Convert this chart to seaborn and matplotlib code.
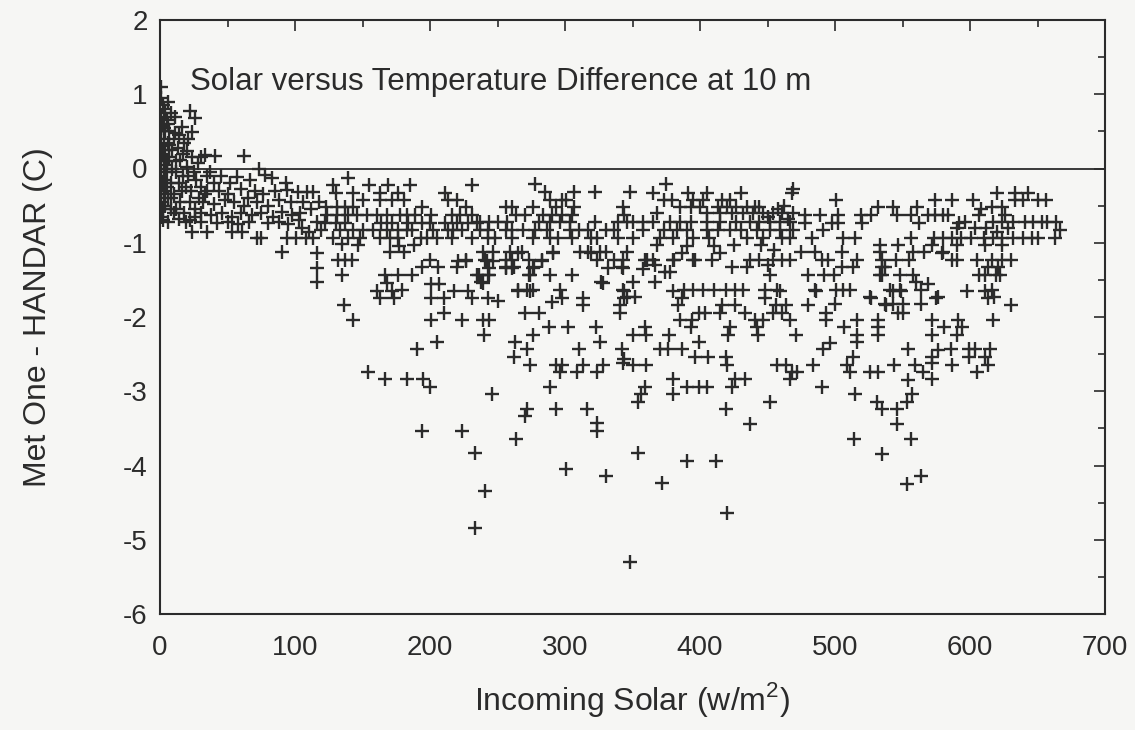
import matplotlib
matplotlib.use("Agg")
import matplotlib.pyplot as plt
from matplotlib.ticker import MultipleLocator
import seaborn as sns
import pandas as pd

# (incoming solar w/m2, Met One - HANDAR difference C)
seg_0_100 = [
(1,1.1),(1,0.95),(2,0.85),(1,0.7),(2,0.6),(1,0.5),(3,0.4),(1,0.3),(2,0.2),(1,0.1),(3,0.0),(1,-0.1),(2,-0.2),(1,-0.3),(3,-0.35),(1,-0.45),(2,-0.55),(1,-0.65),
(4,0.75),(4,0.5),(4,0.25),(4,0.05),(4,-0.15),(4,-0.3),(4,-0.5),(5,0.65),(5,0.1),(5,-0.05),(5,-0.25),(6,-0.4),(6,-0.72),(6,0.35),(7,0.5),(7,0.15),(8,-0.2),(8,-0.55),(8,0.75),
(11,0.7),(22,0.78),(26,0.68),(16,0.56),(24,0.49),(11,0.48),(7,0.31),(13,0.28),(20,0.23),(24,0.16),(30,0.16),(28,0.07),(10,0.4),(18,0.35),(15,0.12),(9,0.0),(12,-0.05),(17,-0.1),(20,0.02),(25,-0.05),(14,-0.2),(19,-0.25),(23,-0.3),(10,-0.35),(15,-0.45),(27,-0.15),(30,-0.25),(22,-0.45),(12,-0.55),(18,-0.6),(26,-0.55),(29,-0.4),(33,-0.35),(35,-0.1),(33,0.18),(41,0.17),(62,0.17),(73,0.0),
(37,-0.05),(45,-0.1),(57,-0.11),(67,-0.15),(78,-0.09),(83,-0.13),(52,-0.2),(93,-0.2),(40,-0.2),
(35,-0.3),(44,-0.3),(50,-0.35),(60,-0.28),(70,-0.3),(76,-0.35),(85,-0.3),(94,-0.29),(65,-0.4),
(32,-0.45),(40,-0.48),(48,-0.42),(55,-0.45),(62,-0.5),(72,-0.45),(80,-0.5),(88,-0.42),(97,-0.45),
(30,-0.6),(38,-0.62),(46,-0.6),(53,-0.65),(60,-0.6),(68,-0.62),(75,-0.6),(84,-0.65),(90,-0.58),(98,-0.62),
(22,-0.7),(30,-0.72),(42,-0.74),(50,-0.72),(58,-0.75),(66,-0.72),(80,-0.74),(88,-0.72),(95,-0.75),
(24,-0.85),(35,-0.85),(53,-0.85),(61,-0.85),(72,-0.93),(75,-0.93),(94,-0.93),(90,-1.12),
(3,0.55),(6,0.6),(9,0.25),(14,0.45),(17,0.2),(21,0.4),(12,0.1),(8,-0.4),(10,-0.6),(14,-0.68),(19,-0.72),(26,-0.65),(16,-0.3),(21,-0.1),(6,0.9),(3,0.8),(2,-0.7),
]

seg_100_200 = [
(101,-0.93),(108,-0.93),(113,-0.93),(103,-0.7),(105,-0.8),(110,-0.85),(102,-0.31),(109,-0.31),(113,-0.31),(106,-0.45),(112,-0.55),(104,-0.6),(116,-0.72),(116,-1.14),(116,-1.34),(116,-1.53),(118,-0.45),
(139,-0.13),(128,-0.22),(130,-0.33),(155,-0.22),(169,-0.22),(185,-0.22),(143,-0.33),(163,-0.33),(176,-0.33),
(150,-0.42),(163,-0.42),(172,-0.42),(181,-0.42),(194,-0.52),(123,-0.52),(131,-0.52),(137,-0.52),(143,-0.52),
(124,-0.63),(131,-0.63),(139,-0.63),(146,-0.63),(153,-0.63),(161,-0.63),(168,-0.63),(178,-0.63),(183,-0.63),(189,-0.63),
(122,-0.73),(130,-0.73),(137,-0.73),(164,-0.73),(172,-0.73),(184,-0.73),(194,-0.73),
(119,-0.83),(133,-0.83),(143,-0.83),(150,-0.83),(158,-0.83),(168,-0.83),(176,-0.83),(183,-0.83),(187,-0.83),
(128,-0.94),(139,-0.94),(148,-0.94),(163,-0.94),(170,-0.94),(176,-0.94),(193,-0.94),(198,-0.94),
(135,-1.02),(147,-1.03),(177,-1.05),(188,-1.03),
(132,-1.23),(137,-1.23),(142,-1.23),(170,-1.12),(181,-1.12),(135,-1.43),(167,-1.43),(176,-1.43),(187,-1.43),(194,-1.33),
(161,-1.65),(172,-1.65),(179,-1.63),(163,-1.74),(173,-1.74),(168,-1.54),(136,-1.84),(143,-2.04),
(154,-2.74),(167,-2.84),(183,-2.84),(195,-2.84),(194,-3.54),(190,-2.43),
]

seg_200_300 = [
(200,-2.94),(224,-3.54),(233,-3.83),(241,-4.34),(233,-4.84),(246,-3.04),(205,-2.34),(201,-2.04),(210,-1.94),(224,-2.04),(239,-2.04),(244,-2.04),(240,-2.24),
(201,-1.55),(207,-1.55),(201,-1.74),(210,-1.74),(218,-1.65),(228,-1.65),(231,-1.74),(243,-1.74),
(206,-1.33),(220,-1.33),(221,-1.24),(227,-1.24),(236,-1.43),(244,-1.43),(239,-1.54),(242,-1.24),(247,-1.24),(256,-1.33),(262,-1.33),(265,-1.14),(273,-1.43),(265,-1.65),(274,-1.65),(270,-1.94),(281,-1.94),(276,-2.24),(263,-2.34),(272,-2.43),(262,-2.54),(274,-2.65),(288,-2.14),(293,-2.65),(298,-2.65),(296,-2.74),(289,-2.94),(272,-3.24),(270,-3.33),(293,-3.24),(264,-3.64),(289,-1.43),(298,-1.74),(291,-1.14),(277,-1.33),(283,-1.24),(200,-1.23),(227,-1.23),(235,-1.43),
(231,-0.22),(211,-0.33),(213,-0.42),(220,-0.42),(227,-0.52),(201,-0.63),(216,-0.63),(222,-0.63),(231,-0.63),(200,-0.73),(211,-0.73),(220,-0.73),(228,-0.73),(235,-0.73),(202,-0.83),(213,-0.83),(217,-0.83),(224,-0.83),(205,-0.94),(216,-0.94),(231,-0.94),
(278,-0.21),(285,-0.31),(289,-0.42),(298,-0.42),(256,-0.52),(261,-0.52),(276,-0.52),(293,-0.52),(264,-0.63),(270,-0.63),(284,-0.63),(290,-0.63),(298,-0.63),
(237,-0.72),(244,-0.72),(250,-0.72),(257,-0.72),(281,-0.72),(289,-0.72),(296,-0.72),
(237,-0.83),(243,-0.83),(256,-0.83),(261,-0.83),(269,-0.83),(278,-0.83),(287,-0.83),
(243,-0.94),(248,-0.94),(261,-0.94),(276,-0.94),(289,-0.94),(295,-0.94),
(239,-1.12),(247,-1.12),(259,-1.12),(268,-1.12),(291,-1.12),
(241,-1.23),(256,-1.23),(261,-1.23),(273,-1.23),(283,-1.23),
(244,-1.34),(256,-1.34),(261,-1.34),(276,-1.34),
(243,-1.43),(274,-1.43),
(238,-1.53),(265,-1.63),(272,-1.63),(276,-1.63),(296,-1.63),(250,-1.78),(290,-1.8),
]

seg_300_400 = [
(307,-0.31),(322,-0.31),(348,-0.31),(301,-0.42),(307,-0.52),(343,-0.52),(305,-0.63),(344,-0.63),
(304,-0.72),(322,-0.72),(339,-0.72),(346,-0.72),(350,-0.72),
(304,-0.83),(310,-0.83),(317,-0.83),(330,-0.83),(336,-0.83),
(305,-0.94),(319,-0.94),(324,-0.94),(339,-0.94),(350,-0.94),
(311,-1.12),(317,-1.12),(326,-1.12),(330,-1.12),(346,-1.12),
(324,-1.23),(336,-1.23),(343,-1.23),(332,-1.34),(343,-1.34),
(305,-1.43),(327,-1.53),(350,-1.53),(343,-1.63),
(328,-1.54),(313,-1.74),(313,-1.84),(341,-1.94),(344,-1.65),(344,-1.74),(342,-1.33),(319,-1.14),
(302,-2.14),(323,-2.14),(326,-2.34),(310,-2.43),(309,-2.74),(313,-2.65),(324,-2.74),(328,-2.65),(342,-2.43),(343,-2.62),(316,-3.24),(324,-3.43),(324,-3.54),(301,-4.05),(330,-4.14),(348,-5.3),
(354,-3.83),(372,-4.24),(390,-3.94),(356,-3.04),(354,-3.14),(359,-2.94),(380,-3.04),(380,-2.84),(390,-2.94),(399,-2.94),
(344,-2.56),(350,-2.65),(360,-2.65),(370,-2.43),(376,-2.43),(387,-2.43),(396,-2.54),(350,-2.24),(360,-2.24),(359,-2.14),(377,-2.24),(399,-2.34),
(385,-2.04),(394,-2.04),(399,-1.94),(393,-2.14),(384,-1.84),(387,-1.74),
(361,-1.23),(367,-1.3),(374,-1.4),(378,-1.4),(381,-1.23),(387,-1.14),(396,-1.23),
(346,-1.73),(352,-1.73),(341,-1.84),(367,-1.53),
(380,-1.65),(388,-1.63),(395,-1.63),
(375,-0.21),(365,-0.33),(391,-0.33),(373,-0.42),(379,-0.42),(395,-0.42),(385,-0.52),(393,-0.52),(368,-0.6),
(358,-0.72),(365,-0.72),(378,-0.72),(385,-0.72),(393,-0.72),
(358,-0.83),(373,-0.83),(383,-0.83),(390,-0.83),
(370,-0.94),(380,-0.94),(395,-0.94),
(368,-1.03),(390,-1.05),(359,-1.23),(365,-1.23),(380,-1.23),(395,-1.23),(358,-1.35),
]

seg_400_500 = [
(405,-0.33),(430,-0.33),(468,-0.33),(402,-0.42),(416,-0.42),(422,-0.42),(400,-0.52),(413,-0.52),(420,-0.52),(427,-0.52),(435,-0.52),(441,-0.52),(444,-0.52),
(405,-0.6),(415,-0.6),(424,-0.6),(432,-0.6),(439,-0.6),(447,-0.6),(454,-0.6),(461,-0.6),(469,-0.6),
(405,-0.72),(415,-0.72),(427,-0.72),(437,-0.72),(444,-0.72),(452,-0.72),(459,-0.72),(467,-0.72),
(405,-0.83),(413,-0.83),(422,-0.83),(430,-0.83),(442,-0.83),(452,-0.83),(459,-0.83),(469,-0.83),
(407,-0.94),(435,-0.94),(447,-0.94),(461,-0.94),(467,-0.94),
(410,-1.05),(425,-1.03),(445,-1.03),(455,-1.1),
(409,-1.23),(437,-1.23),(444,-1.23),(454,-1.23),(461,-1.23),(467,-1.23),
(415,-1.14),(424,-1.33),(435,-1.33),(450,-1.3),(452,-1.43),
(402,-1.63),(410,-1.63),(419,-1.63),(426,-1.63),(432,-1.63),(448,-1.63),(457,-1.63),
(404,-1.94),(415,-1.94),(416,-1.84),(426,-1.84),(433,-1.94),(441,-2.04),(447,-2.04),(442,-2.14),(443,-2.24),(459,-1.65),(448,-1.74),(454,-1.94),(461,-1.94),(467,-2.04),(456,-1.84),(464,-1.84),(471,-2.24),
(406,-2.54),(419,-2.54),(420,-2.65),(421,-2.24),(422,-2.14),(424,-2.94),(426,-2.84),(433,-2.84),(405,-2.94),(412,-3.94),(420,-4.64),(419,-3.24),(437,-3.44),(452,-3.14),
(457,-2.65),(464,-2.65),(468,-2.74),(467,-2.84),(472,-2.74),(484,-2.65),(480,-1.84),(486,-1.65),(493,-1.94),(493,-2.04),(492,-1.43),(491,-2.43),(496,-2.35),(490,-2.94),
(478,-0.63),(489,-0.63),(491,-0.83),(483,-0.93),(485,-1.64),(469,-0.28),(478,-0.73),(498,-0.73),(485,-1.12),(490,-1.23),(495,-1.23),(475,-1.12),(480,-1.43),
(450,-0.65),(458,-0.55),(465,-0.68),(462,-0.5),
]

seg_500_600 = [
(501,-0.42),(532,-0.52),(543,-0.52),(561,-0.52),(574,-0.42),(587,-0.42),
(502,-0.63),(519,-0.63),(527,-0.63),(546,-0.63),(556,-0.63),(569,-0.63),(574,-0.63),(580,-0.63),(584,-0.63),
(502,-0.73),(520,-0.73),(562,-0.73),(590,-0.8),(592,-0.73),
(506,-0.93),(515,-0.93),(556,-0.93),(573,-0.93),(580,-0.93),(587,-0.93),
(533,-1.03),(547,-1.03),(572,-1.03),(590,-1.03),
(505,-1.12),(533,-1.12),(558,-1.12),(566,-1.12),(580,-1.12),
(516,-1.23),(545,-1.23),(555,-1.23),(590,-1.23),
(505,-1.33),(513,-1.33),(537,-1.33),
(499,-1.43),(533,-1.43),(548,-1.43),
(560,-1.53),
(501,-1.64),(506,-1.64),(511,-1.64),(541,-1.64),(548,-1.64),(564,-1.64),
(526,-1.73),(576,-1.73),
(500,-1.83),(537,-1.83),(543,-1.83),(550,-1.83),(564,-1.83),
(507,-2.14),(516,-2.04),(516,-2.24),(516,-2.34),(509,-2.65),(511,-2.74),(513,-2.54),(526,-2.74),(532,-2.74),(527,-1.74),(532,-2.04),(532,-2.14),(532,-2.24),(538,-1.84),(547,-1.94),(550,-1.94),(535,-1.43),(535,-1.33),(535,-1.23),(543,-1.65),(549,-1.65),(544,-2.65),(554,-2.85),(559,-2.65),(554,-2.43),(558,-1.43),(569,-1.55),(575,-1.74),(572,-2.04),(572,-2.24),(581,-2.14),(591,-2.04),(594,-2.14),(590,-2.24),(576,-2.44),(586,-2.43),(572,-2.54),(572,-2.62),(565,-2.74),(572,-2.84),(587,-2.65),
(515,-3.04),(514,-3.64),(535,-3.84),(553,-4.25),(564,-4.14),(556,-3.64),(546,-3.44),(546,-3.24),(535,-3.24),(531,-3.14),(553,-3.14),(557,-3.04),(598,-1.65),(587,-1.23),(579,-1.14),
]

seg_600_700 = [
(599,-2.43),(604,-2.43),(599,-2.54),(611,-2.54),(613,-2.65),(605,-2.74),(615,-2.43),
(611,-1.65),(613,-1.74),(611,-1.43),(622,-1.43),(621,-1.33),(630,-1.23),(605,-1.23),(616,-1.23),(624,-1.23),(630,-1.84),(617,-2.04),
(620,-0.33),(633,-0.33),(643,-0.33),(633,-0.42),(639,-0.42),(650,-0.42),(656,-0.42),(602,-0.42),(616,-0.52),(624,-0.52),(607,-0.63),(626,-0.63),
(596,-0.72),(617,-0.72),(624,-0.72),(632,-0.72),(641,-0.72),(647,-0.72),(653,-0.72),(657,-0.72),(664,-0.72),(667,-0.83),
(593,-0.93),(601,-0.93),(610,-0.93),(617,-0.93),(624,-0.93),(632,-0.93),(639,-0.93),(646,-0.93),(650,-0.93),(663,-0.93),
(611,-1.03),(624,-1.03),(613,-1.33),(607,-1.43),(619,-1.43),(616,-1.64),(618,-1.73),
(608,-0.55),(612,-0.8),(620,-0.85),(628,-0.8),(604,-0.8),
]

title_text = "Solar versus Temperature Difference at 10 m"
x_label = "Incoming Solar (w/m$^2$)"
y_label = "Met One - HANDAR (C)"
x_ticks = [0, 100, 200, 300, 400, 500, 600, 700]
y_ticks = [-6, -5, -4, -3, -2, -1, 0, 1, 2]

rows = seg_0_100 + seg_100_200 + seg_200_300 + seg_300_400 + seg_400_500 + seg_500_600 + seg_600_700
df = pd.DataFrame(rows, columns=["solar", "diff"])

sns.set_theme(style="white")
plt.rcParams["font.family"] = ["Liberation Sans", "DejaVu Sans"]
plt.rcParams["mathtext.fontset"] = "custom"
plt.rcParams["mathtext.rm"] = "Liberation Sans"

ink = "#2b2b2b"
bg = "#f6f6f4"
fig = plt.figure(figsize=(11.35, 7.30), dpi=100, facecolor=bg)
ax = fig.add_axes([160/1135, 1-614/730, 945/1135, 594/730])
ax.set_facecolor(bg)

ax.axhline(0, color=ink, lw=1.3, zorder=1)
sns.scatterplot(data=df, x="solar", y="diff", marker="+", s=100, color=ink,
                linewidth=1.7, ax=ax, zorder=3)

ax.set_xlim(0, 700)
ax.set_ylim(-6, 2)
ax.set_xticks(x_ticks)
ax.set_yticks(y_ticks)
ax.set_xticklabels([str(v) for v in x_ticks])
ax.set_yticklabels([str(v) for v in y_ticks])
ax.xaxis.set_minor_locator(MultipleLocator(50))
ax.yaxis.set_minor_locator(MultipleLocator(0.5))
ax.tick_params(which="both", direction="in", top=True, right=True, colors=ink,
               labelsize=20, width=1.2)
ax.tick_params(which="major", length=8)
ax.tick_params(which="minor", length=5)
ax.tick_params(axis="x", which="major", pad=15)
ax.tick_params(axis="y", which="major", pad=9)
for sp in ax.spines.values():
    sp.set_color(ink)
    sp.set_linewidth(1.5)

ax.set_xlabel(x_label, fontsize=23, color=ink, labelpad=14)
ax.set_ylabel(y_label, fontsize=23, color=ink, labelpad=50)
ax.text(0.032, 0.895, title_text, transform=ax.transAxes, fontsize=22.5,
        color=ink, ha="left", va="center")

fig.savefig("out.png", dpi=100, facecolor=bg)
